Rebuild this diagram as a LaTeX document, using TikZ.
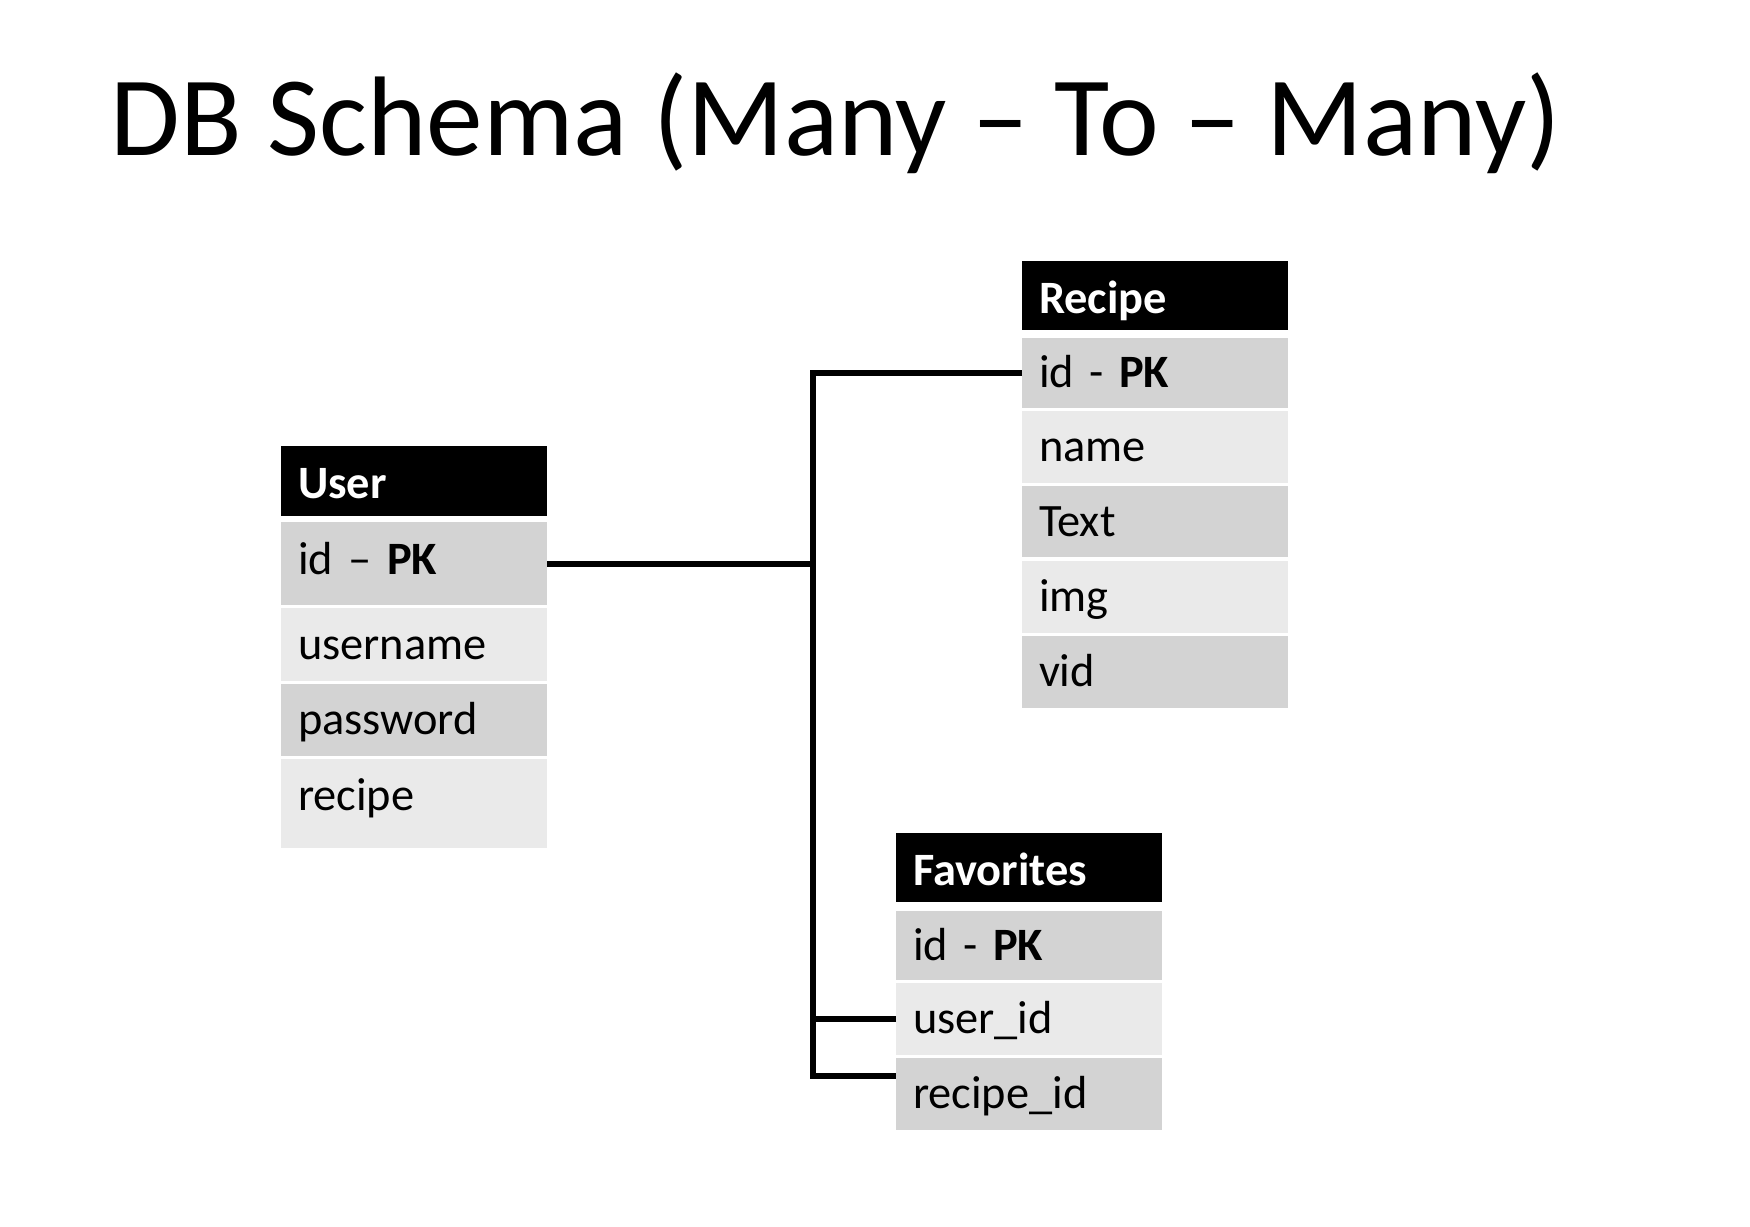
\documentclass[tikz,border=0pt]{standalone}
\usepackage{fontspec}
\setmainfont{Carlito}
\usetikzlibrary{positioning}
\definecolor{rowdark}{RGB}{211,211,211}
\definecolor{rowlight}{RGB}{234,234,234}

\begin{document}
\begin{tikzpicture}[
cell/.style={minimum width=2.66cm, text width=2.32cm, inner xsep=0.17cm, inner ysep=0pt, outer sep=0pt,
  align=left, text height=0.38cm, text depth=0.09cm, font=\fontsize{13.2pt}{15pt}\selectfont},
head/.style={cell, fill=black, text=white, text height=0.41cm, text depth=0.06cm,
  font=\fontsize{13.2pt}{15pt}\selectfont\bfseries},
dark/.style={cell, fill=rowdark},
light/.style={cell, fill=rowlight},
link/.style={line width=1.7pt}
]
\useasboundingbox (0,0) rectangle (17.5,-12.26);

\node[anchor=base west, inner sep=0pt, font=\fontsize{32.2pt}{36pt}\selectfont] (title) at (1.10,-1.55) {DB Schema (Many – To – Many)};

% User table
\node[head, minimum height=0.70cm, anchor=north west] (user) at (2.81,-4.46) {User};
\node[dark, minimum height=0.83cm, below=0.06cm of user, text height=0.34cm, text depth=0.13cm] (uid) {id – \textbf{PK}};
\node[light, minimum height=0.73cm, below=0.03cm of uid] (uname) {username};
\node[dark, minimum height=0.72cm, below=0.03cm of uname] (upass) {password};
\node[light, minimum height=0.89cm, below=0.03cm of upass, text height=0.31cm, text depth=0.17cm] (urecipe) {recipe};

% Recipe table
\node[head, minimum height=0.69cm, anchor=north west] (recipe) at (10.22,-2.61) {Recipe};
\node[dark, minimum height=0.70cm, below=0.08cm of recipe] (rid) {id - \textbf{PK}};
\node[light, minimum height=0.72cm, below=0.03cm of rid] (rname) {name};
\node[dark, minimum height=0.71cm, below=0.03cm of rname] (rtext) {Text};
\node[light, minimum height=0.72cm, below=0.04cm of rtext] (rimg) {img};
\node[dark, minimum height=0.72cm, below=0.03cm of rimg] (rvid) {vid};

% Favorites table
\node[head, minimum height=0.69cm, anchor=north west] (fav) at (8.96,-8.33) {Favorites};
\node[dark, minimum height=0.69cm, below=0.09cm of fav] (fid) {id - \textbf{PK}};
\node[light, minimum height=0.72cm, below=0.03cm of fid] (fuser) {user\_id};
\node[dark, minimum height=0.72cm, below=0.03cm of fuser] (frecipe) {recipe\_id};

% links
\coordinate (bus) at (8.13,0);
\coordinate (fjoin) at ([yshift=-0.18cm]frecipe.north west);
\draw[link] (uid.east) -- (uid.east -| bus);
\draw[link] (rid.west) -| (bus |- fjoin) -- (fjoin);
\draw[link] (fuser.west) -- (fuser.west -| bus);
\end{tikzpicture}
\end{document}
